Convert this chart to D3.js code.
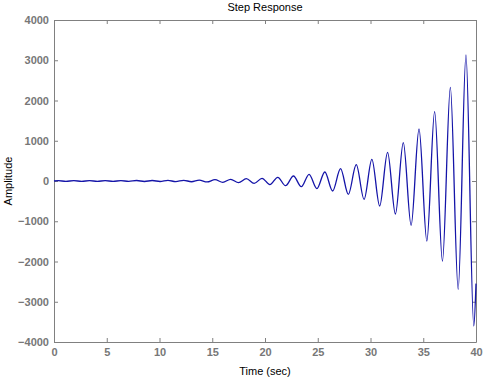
<!DOCTYPE html>
<html>
<head>
<meta charset="utf-8">
<script src="https://cdn.jsdelivr.net/npm/d3@7/dist/d3.min.js"></script>
<style>
  html, body { margin: 0; padding: 0; background: #fff; }
  svg { display: block; font-family: "Liberation Sans", Arial, sans-serif; }
</style>
</head>
<body>
<svg id="chart" width="484" height="378"></svg>
<script>
// Local extrema of the step response (time in sec, amplitude)
const times = [0, 0.39, 1.13, 1.88, 2.62, 3.37, 4.11, 4.85, 5.6, 6.34, 7.08, 7.83, 8.57, 9.31, 10.05,
  10.8, 11.54, 12.29, 13.03, 13.77, 14.51, 15.26, 16.0, 16.75, 17.49, 18.23, 18.97, 19.72, 20.46,
  21.21, 21.95, 22.7, 23.44, 24.18, 24.92, 25.67, 26.41, 27.16, 27.9, 28.65, 29.39, 30.13, 30.87,
  31.62, 32.36, 33.11, 33.85, 34.6, 35.34, 36.08, 36.82, 37.57, 38.31, 39.05, 39.79, 40];
const amplitude = [0, 10, -10, 10, -10, 10, -10, 10, -10, 10, -10, 12, -12, 12, -12,
  14, -14, 18, -18, 22, -24, 32, -32, 42, -40, 57, -60, 67, -88,
  92, -116, 124, -141, 166, -190, 224, -248, 306, -331, 405, -455, 539, -621,
  713, -820, 952, -1101, 1292, -1491, 1722, -1988, 2328, -2690, 3130, -3602, -2550];
const xTicks = [0, 5, 10, 15, 20, 25, 30, 35, 40];
const yTicks = [-4000, -3000, -2000, -1000, 0, 1000, 2000, 3000, 4000];
const titleText = "Step Response";
const xLabel = "Time (sec)";
const yLabel = "Amplitude";

const svg = d3.select("#chart");
const m = { left: 54, right: 476, top: 20, bottom: 342 };
const x = d3.scaleLinear().domain([0, 40]).range([m.left, m.right]);
const y = d3.scaleLinear().domain([-4000, 4000]).range([m.bottom, m.top]);

const axisColor = "#808080";
const labelColor = "#777";

function styleAxis(g, showLabels) {
  g.selectAll(".domain").attr("stroke", axisColor).attr("stroke-width", 1);
  g.selectAll(".tick line").attr("stroke", axisColor).attr("stroke-width", 1);
  g.selectAll(".tick text")
    .attr("fill", labelColor)
    .style("font-size", "11px")
    .style("font-weight", "bold")
    .style("font-family", '"Liberation Sans", Arial, sans-serif');
  if (!showLabels) g.selectAll(".tick text").remove();
}

// bottom axis
svg.append("g").attr("transform", `translate(0,${m.bottom})`)
  .call(d3.axisBottom(x).tickValues(xTicks).tickSizeInner(-4).tickSizeOuter(0).tickPadding(6).tickFormat(d3.format("d")))
  .call(g => styleAxis(g, true));
// top axis
svg.append("g").attr("transform", `translate(0,${m.top})`)
  .call(d3.axisTop(x).tickValues(xTicks).tickSizeInner(-4).tickSizeOuter(0))
  .call(g => styleAxis(g, false));
// left axis
svg.append("g").attr("transform", `translate(${m.left},0)`)
  .call(d3.axisLeft(y).tickValues(yTicks).tickSizeInner(-4).tickSizeOuter(0).tickPadding(5).tickFormat(d3.format("d")))
  .call(g => styleAxis(g, true));
// right axis
svg.append("g").attr("transform", `translate(${m.right},0)`)
  .call(d3.axisRight(y).tickValues(yTicks).tickSizeInner(-4).tickSizeOuter(0))
  .call(g => styleAxis(g, false));

// response line
const data = times.map((t, i) => [t, amplitude[i]]);
const line = d3.line().x(d => x(d[0])).y(d => y(d[1])).curve(d3.curveMonotoneX);
svg.append("path").datum(data)
  .attr("d", line)
  .attr("fill", "none")
  .attr("stroke", "#1414a8")
  .attr("stroke-width", 1.3)
  .attr("stroke-linejoin", "round");

// title and labels
svg.append("text").attr("x", (m.left + m.right) / 2).attr("y", 11)
  .attr("text-anchor", "middle").style("font-size", "11px").attr("fill", "#000")
  .text(titleText);
svg.append("text").attr("x", (m.left + m.right) / 2).attr("y", 375)
  .attr("text-anchor", "middle").style("font-size", "11px").attr("fill", "#000")
  .text(xLabel);
svg.append("text").attr("transform", `translate(12,${(m.top + m.bottom) / 2}) rotate(-90)`)
  .attr("text-anchor", "middle").style("font-size", "11px").attr("fill", "#000")
  .text(yLabel);
</script>
</body>
</html>
